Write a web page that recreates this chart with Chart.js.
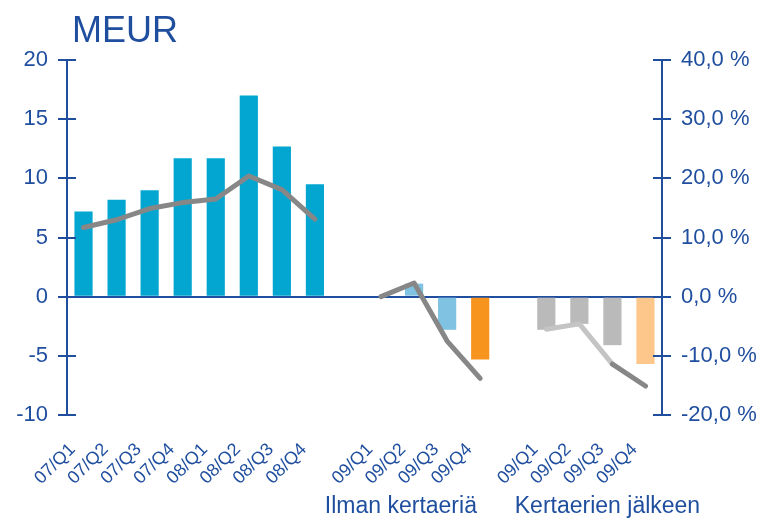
<!DOCTYPE html>
<html>
<head>
<meta charset="utf-8">
<title>MEUR</title>
<script src="https://cdn.jsdelivr.net/npm/chart.js@4/dist/chart.umd.min.js"></script>
<style>
  html, body { margin:0; padding:0; background:#fff; }
  #chart { display:block; }
</style>
</head>
<body>
<canvas id="chart" width="762" height="518"></canvas>
<script>
/* ---------- Data ---------- */
const quarters = ['07/Q1','07/Q2','07/Q3','07/Q4','08/Q1','08/Q2','08/Q3','08/Q4','',
                  '09/Q1','09/Q2','09/Q3','09/Q4','',
                  '09/Q1','09/Q2','09/Q3','09/Q4'];
const meurValues = [7.2, 8.2, 9.0, 11.7, 11.7, 17.0, 12.7, 9.5, null,
                    0, 1.1, -2.8, -5.3, null,
                    -2.8, -2.3, -4.1, -5.7];
const growthPct = [11.7, 13.0, 14.9, 15.9, 16.5, 20.4, 18.1, 13.1, null,
                   0.0, 2.3, -7.5, -13.8, null,
                   -5.5, -4.6, -11.4, -15.1];
const groupLabels = ['Ilman kertaeriä', 'Kertaerien jälkeen'];
const leftTicks = [-10, -5, 0, 5, 10, 15, 20];
const rightTicks = [-20, -10, 0, 10, 20, 30, 40];

/* ---------- Styles ---------- */
const BLUE = '#1f4e9f';
const FONT = "'Liberation Sans', Arial, sans-serif";
const barColors = ['#03a6d0','#03a6d0','#03a6d0','#03a6d0','#03a6d0','#03a6d0','#03a6d0','#03a6d0','#fff',
                   '#7fc2e1','#7fc2e1','#7fc2e1','#f7941d','#fff',
                   '#bababa','#bababa','#bababa','#fdc78b'];
const groupAnchors = [9.6, 15.85]; // category-index positions for the group captions
const lightSegments = [14, 15];    // segments starting at these indices drawn lighter

/* ---------- Extra drawing: title, crossing ticks, group captions ---------- */
const decorations = {
  id:'decorations',
  afterDraw(chart){
    const { ctx, chartArea, scales } = chart;
    ctx.save();
    ctx.fillStyle = BLUE;
    ctx.strokeStyle = BLUE;
    ctx.lineWidth = 2;

    // title
    ctx.font = '36px ' + FONT;
    ctx.textAlign = 'left';
    ctx.textBaseline = 'alphabetic';
    ctx.fillText('MEUR', chartArea.left + 5, 42);

    // tick marks crossing both axes
    [scales.y, scales.y2].forEach(s => {
      const x = s.position === 'left' ? chartArea.left : chartArea.right;
      s.ticks.forEach((t, i) => {
        const y = Math.round(s.getPixelForTick(i));
        ctx.beginPath();
        ctx.moveTo(x - 9, y);
        ctx.lineTo(x + 9, y);
        ctx.stroke();
      });
    });

    // group captions
    ctx.font = '23px ' + FONT;
    ctx.textAlign = 'center';
    groupLabels.forEach((txt, i) => {
      ctx.fillText(txt, scales.x.getPixelForValue(groupAnchors[i]), 513);
    });
    ctx.restore();
  }
};

new Chart(document.getElementById('chart'), {
  data:{
    labels: quarters,
    datasets:[
      {
        type:'line', label:'Kasvu %', data: growthPct, yAxisID:'y2', order:1,
        borderColor:'#878787', borderWidth:5, pointRadius:0, tension:0,
        borderCapStyle:'round', borderJoinStyle:'round', spanGaps:false,
        segment:{ borderColor: c => lightSegments.includes(c.p0DataIndex) ? '#c4c4c4' : undefined }
      },
      {
        type:'bar', label:'MEUR', data: meurValues, yAxisID:'y', order:2,
        backgroundColor: barColors, barPercentage:0.55, categoryPercentage:1.0
      }
    ]
  },
  plugins:[decorations],
  options:{
    responsive:false,
    animation:false,
    layout:{ padding:{ top:60, left:0, right:0, bottom:0 } },
    plugins:{ legend:{ display:false }, tooltip:{ enabled:false } },
    scales:{
      x:{
        offset:true,
        grid:{ display:false },
        border:{ display:false },
        ticks:{ color:BLUE, font:{ family:FONT, size:18 }, autoSkip:false, minRotation:45, maxRotation:45,
                padding:16, labelOffset:-11 },
        afterFit: s => { s.height = 103; }
      },
      y:{
        position:'left', min:-10, max:20,
        afterBuildTicks: s => { s.ticks = leftTicks.map(v => ({ value:v })); },
        grid:{ drawTicks:false, lineWidth:2, color: c => c.tick && c.tick.value === 0 ? BLUE : 'rgba(0,0,0,0)' },
        border:{ color:BLUE, width:2 },
        ticks:{ color:BLUE, font:{ family:FONT, size:22 }, padding:19 },
        afterFit: s => { s.width = 67; }
      },
      y2:{
        position:'right', min:-20, max:40,
        afterBuildTicks: s => { s.ticks = rightTicks.map(v => ({ value:v })); },
        grid:{ drawTicks:false, drawOnChartArea:false },
        border:{ color:BLUE, width:2 },
        ticks:{ color:BLUE, font:{ family:FONT, size:22 }, padding:19,
                callback: v => v.toFixed(1).replace('.', ',') + ' %' },
        afterFit: s => { s.width = 100; }
      }
    }
  }
});
</script>
</body>
</html>
